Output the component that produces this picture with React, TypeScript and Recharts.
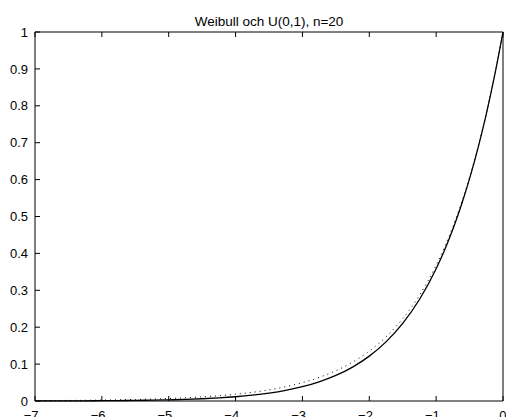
import { LineChart, Line, XAxis, YAxis } from "recharts";

const xs = [
  -7, -6.75, -6.5, -6.25, -6, -5.75, -5.5, -5.25, -5, -4.75, -4.5, -4.25, -4, -3.75, -3.5,
  -3.25, -3, -2.75, -2.5, -2.25, -2, -1.75, -1.5, -1.25, -1, -0.875, -0.75, -0.625, -0.5,
  -0.375, -0.25, -0.125, 0,
];

// dotted curve
const weibull = [
  0.000912, 0.001171, 0.001503, 0.00193, 0.002479, 0.003183, 0.004087, 0.005248, 0.006738,
  0.008652, 0.011109, 0.014264, 0.018316, 0.023518, 0.030197, 0.038774, 0.049787, 0.063928,
  0.082085, 0.105399, 0.135335, 0.173774, 0.22313, 0.286505, 0.367879, 0.416862, 0.472367,
  0.535261, 0.606531, 0.687289, 0.778801, 0.882497, 1,
];

// solid curve, U(0,1) with n=20
const uniform20 = [
  0.000181, 0.000265, 0.000386, 0.000556, 0.000798, 0.001137, 0.00161, 0.002266, 0.003171,
  0.004414, 0.00611, 0.008414, 0.011529, 0.01572, 0.021334, 0.02882, 0.03876, 0.051901,
  0.069209, 0.09191, 0.121577, 0.160199, 0.210296, 0.275059, 0.358486, 0.40872, 0.465603,
  0.52995, 0.602686, 0.684834, 0.777571, 0.882148, 1,
];

const xTicks = [-7, -6, -5, -4, -3, -2, -1, 0];
const yTicks = [0, 0.1, 0.2, 0.3, 0.4, 0.5, 0.6, 0.7, 0.8, 0.9, 1];

const title = "Weibull och U(0,1), n=20";

const data = xs.map((x, i) => ({ x, w: weibull[i], u: uniform20[i] }));

const FONT = "Arial, 'Liberation Sans', Helvetica, sans-serif";
const TICK_LEN = 5;

function fmt(v: number): string {
  const s = String(Math.round(v * 10) / 10);
  return s.startsWith("-") ? "\u2212" + s.slice(1) : s;
}

const BottomTick = (p: any) => {
  const v = p.payload.value as number;
  return (
    <g>
      <line x1={p.x} x2={p.x} y1={p.y} y2={p.y - TICK_LEN} stroke="#000" />
      <text x={p.x + 3.6} y={p.y + 19} textAnchor="end" fontSize={13} fontFamily={FONT} fill="#000">
        {fmt(v)}
      </text>
    </g>
  );
};

const TopTick = (p: any) => (
  <line x1={p.x} x2={p.x} y1={p.y} y2={p.y + TICK_LEN} stroke="#000" />
);

const LeftTick = (p: any) => {
  const v = p.payload.value as number;
  return (
    <g>
      <line x1={p.x} x2={p.x + TICK_LEN} y1={p.y} y2={p.y} stroke="#000" />
      <text x={p.x - 7} y={p.y + 4.6} textAnchor="end" fontSize={13} fontFamily={FONT} fill="#000">
        {fmt(v)}
      </text>
    </g>
  );
};

const RightTick = (p: any) => (
  <line x1={p.x} x2={p.x - TICK_LEN} y1={p.y} y2={p.y} stroke="#000" />
);

export default function App() {
  return (
    <div style={{ position: "absolute", left: 0, top: 0, width: 506, height: 417, background: "#fff" }}>
      <LineChart
        width={506}
        height={417}
        data={data}
        margin={{ top: 31, right: 2, bottom: 0, left: 0 }}
      >
        <XAxis
          xAxisId="b"
          type="number"
          dataKey="x"
          domain={[-7, 0]}
          ticks={xTicks}
          height={16}
          tickSize={0}
          tickMargin={0}
          tickLine={false}
          axisLine={{ stroke: "#000" }}
          tick={BottomTick}
          interval={0}
        />
        <XAxis
          xAxisId="t"
          orientation="top"
          type="number"
          dataKey="x"
          domain={[-7, 0]}
          ticks={xTicks}
          height={1}
          tickSize={0}
          tickMargin={0}
          tickLine={false}
          axisLine={{ stroke: "#000" }}
          tick={TopTick}
          interval={0}
        />
        <YAxis
          yAxisId="l"
          type="number"
          domain={[0, 1]}
          ticks={yTicks}
          width={35}
          tickSize={0}
          tickMargin={0}
          tickLine={false}
          axisLine={{ stroke: "#000" }}
          tick={LeftTick}
          interval={0}
        />
        <YAxis
          yAxisId="r"
          orientation="right"
          type="number"
          domain={[0, 1]}
          ticks={yTicks}
          width={1}
          tickSize={0}
          tickMargin={0}
          tickLine={false}
          axisLine={{ stroke: "#000" }}
          tick={RightTick}
          interval={0}
        />
        <Line
          xAxisId="b"
          yAxisId="l"
          dataKey="w"
          type="monotone"
          stroke="#000"
          strokeWidth={1}
          strokeDasharray="1 4"
          dot={false}
          activeDot={false}
          isAnimationActive={false}
        />
        <Line
          xAxisId="b"
          yAxisId="l"
          dataKey="u"
          type="monotone"
          stroke="#000"
          strokeWidth={1.3}
          dot={false}
          activeDot={false}
          isAnimationActive={false}
        />
      </LineChart>
      <svg
        width={506}
        height={417}
        style={{ position: "absolute", left: 0, top: 0, pointerEvents: "none" }}
      >
        <text x={269} y={26} textAnchor="middle" fontSize={13.5} fontFamily={FONT} fill="#000">
          {title}
        </text>
      </svg>
    </div>
  );
}
